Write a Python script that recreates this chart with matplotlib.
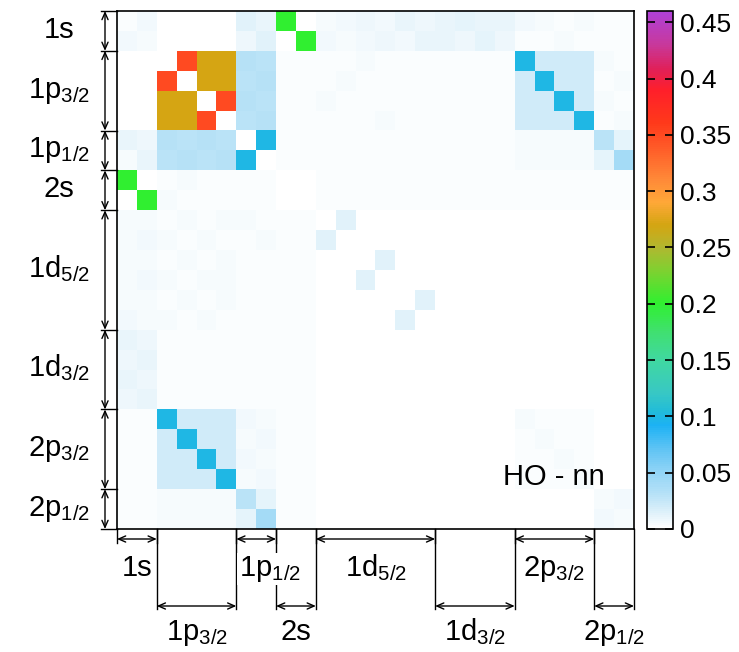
import numpy as np
import matplotlib.pyplot as plt
from matplotlib.colors import LinearSegmentedColormap

plt.rcParams['font.family'] = ['Liberation Sans', 'DejaVu Sans']
plt.rcParams['mathtext.default'] = 'regular'

# orbitals of the basis and number of m-states in each
orbitals = ['1s', '1p$_{3/2}$', '1p$_{1/2}$', '2s', '1d$_{5/2}$', '1d$_{3/2}$',
            '2p$_{3/2}$', '2p$_{1/2}$']
n_states = [2, 4, 2, 2, 6, 4, 4, 2]

cbar_ticks = [0, 0.05, 0.1, 0.15, 0.2, 0.25, 0.3, 0.35, 0.4, 0.45]
cbar_labels = ['0', '0.05', '0.1', '0.15', '0.2', '0.25', '0.3', '0.35', '0.4', '0.45']

# matrix, in units of 1e-3 (row i, column j)
rows = [
    [3, 6, 0, 0, 0, 0, 14, 10, 200, 0, 5, 6, 8, 6, 10, 8, 10, 12, 10, 10, 6, 4, 3, 4, 3, 3],
    [6, 4, 0, 0, 0, 0, 8, 14, 0, 200, 6, 5, 6, 8, 6, 10, 10, 8, 12, 8, 3, 3, 4, 2, 2, 3],
    [0, 0, 0, 350, 270, 270, 32, 30, 2, 3, 3, 2, 4, 2, 3, 3, 2, 3, 2, 2, 100, 20, 20, 20, 4, 3],
    [0, 0, 350, 0, 270, 270, 30, 32, 3, 2, 2, 4, 2, 3, 2, 2, 3, 2, 2, 3, 20, 100, 20, 20, 3, 4],
    [0, 0, 270, 270, 0, 350, 32, 30, 2, 3, 4, 2, 3, 2, 3, 2, 2, 3, 2, 2, 20, 20, 100, 20, 4, 3],
    [0, 0, 270, 270, 350, 0, 30, 32, 3, 2, 2, 3, 2, 4, 2, 3, 3, 2, 3, 2, 20, 20, 20, 100, 3, 4],
    [10, 8, 32, 30, 32, 30, 0, 100, 2, 2, 3, 3, 3, 3, 3, 3, 3, 3, 3, 3, 4, 4, 4, 4, 30, 12],
    [5, 10, 30, 32, 30, 32, 100, 0, 2, 2, 3, 3, 3, 3, 3, 3, 3, 3, 3, 3, 4, 4, 4, 4, 12, 40],
    [200, 0, 3, 4, 3, 3, 2, 2, 0, 0, 2, 2, 2, 2, 2, 2, 2, 2, 2, 2, 3, 3, 3, 3, 2, 2],
    [0, 200, 4, 3, 3, 3, 2, 2, 0, 0, 2, 2, 2, 2, 2, 2, 2, 2, 2, 2, 3, 3, 3, 3, 2, 2],
    [5, 4, 3, 5, 3, 5, 4, 3, 3, 2, 0, 14, 0, 0, 0, 0, 0, 0, 0, 0, 0, 0, 0, 0, 0, 0],
    [4, 6, 5, 3, 5, 3, 3, 4, 2, 3, 14, 0, 0, 0, 0, 0, 0, 0, 0, 0, 0, 0, 0, 0, 0, 0],
    [5, 4, 3, 5, 3, 4, 3, 2, 2, 2, 0, 0, 0, 14, 0, 0, 0, 0, 0, 0, 0, 0, 0, 0, 0, 0],
    [4, 6, 5, 3, 4, 5, 2, 3, 2, 2, 0, 0, 14, 0, 0, 0, 0, 0, 0, 0, 0, 0, 0, 0, 0, 0],
    [5, 5, 3, 4, 3, 5, 3, 2, 2, 2, 0, 0, 0, 0, 0, 14, 0, 0, 0, 0, 0, 0, 0, 0, 0, 0],
    [6, 4, 4, 3, 5, 3, 2, 3, 2, 2, 0, 0, 0, 0, 14, 0, 0, 0, 0, 0, 0, 0, 0, 0, 0, 0],
    [9, 8, 3, 2, 3, 2, 3, 2, 2, 2, 0, 0, 0, 0, 0, 0, 0, 0, 0, 0, 0, 0, 0, 0, 0, 0],
    [8, 10, 2, 3, 2, 3, 2, 3, 2, 2, 0, 0, 0, 0, 0, 0, 0, 0, 0, 0, 0, 0, 0, 0, 0, 0],
    [10, 8, 3, 2, 3, 2, 3, 2, 2, 2, 0, 0, 0, 0, 0, 0, 0, 0, 0, 0, 0, 0, 0, 0, 0, 0],
    [8, 9, 2, 3, 2, 3, 2, 3, 2, 2, 0, 0, 0, 0, 0, 0, 0, 0, 0, 0, 0, 0, 0, 0, 0, 0],
    [3, 2, 100, 20, 20, 20, 6, 5, 3, 3, 0, 0, 0, 0, 0, 0, 0, 0, 0, 0, 4, 3, 3, 3, 0, 0],
    [2, 3, 20, 100, 20, 20, 5, 6, 3, 3, 0, 0, 0, 0, 0, 0, 0, 0, 0, 0, 3, 4, 3, 3, 0, 0],
    [3, 2, 20, 20, 100, 20, 6, 5, 3, 3, 0, 0, 0, 0, 0, 0, 0, 0, 0, 0, 3, 3, 4, 3, 0, 0],
    [2, 3, 20, 20, 20, 100, 5, 6, 3, 3, 0, 0, 0, 0, 0, 0, 0, 0, 0, 0, 3, 3, 3, 4, 0, 0],
    [3, 3, 5, 4, 5, 4, 30, 12, 2, 2, 0, 0, 0, 0, 0, 0, 0, 0, 0, 0, 0, 0, 0, 0, 4, 6],
    [3, 3, 4, 5, 4, 5, 12, 40, 2, 2, 0, 0, 0, 0, 0, 0, 0, 0, 0, 0, 0, 0, 0, 0, 6, 4],
]
M = np.array(rows) / 1000.0

vmax = 0.46
anchors = [
    (0.0, '#ffffff'), (0.015, '#dcf0fa'), (0.03, '#b8e2f7'), (0.05, '#90d4f6'),
    (0.07, '#60c4f4'), (0.092, '#1cb2f4'), (0.105, '#22bcd8'), (0.12, '#38c8c4'),
    (0.15, '#40d8a0'), (0.175, '#40e070'), (0.2, '#30f030'), (0.23, '#80d030'),
    (0.25, '#b0b830'), (0.27, '#d4a512'), (0.29, '#ffa838'), (0.31, '#ff8a38'),
    (0.34, '#ff5a28'), (0.36, '#ff3a1a'), (0.39, '#ff1f2a'), (0.41, '#e0205a'),
    (0.43, '#c8389a'), (0.46, '#b040d8'),
]
cmap = LinearSegmentedColormap.from_list('hm', [(v / vmax, c) for v, c in anchors])

fig = plt.figure(figsize=(7.39, 6.52), dpi=100)
ax = fig.add_axes([117 / 739, 1 - 529 / 652, 517 / 739, 518 / 652])
n = M.shape[0]
im = ax.imshow(M, cmap=cmap, vmin=0, vmax=vmax, interpolation='nearest',
               aspect='auto', extent=(0, n, n, 0))
ax.set_xticks([])
ax.set_yticks([])
for s in ax.spines.values():
    s.set_linewidth(1.2)

ax.text(0.944, 0.10, 'HO - nn', transform=ax.transAxes, ha='right', va='center',
        fontsize=21)

# colorbar
cax = fig.add_axes([647 / 739, 1 - 529 / 652, 26 / 739, 518 / 652])
cb = fig.colorbar(im, cax=cax, ticks=cbar_ticks)
cb.ax.set_yticklabels(cbar_labels, fontsize=19)
cax.tick_params(direction='in', left=True, right=True, length=6, width=1.2, pad=5)
cb.outline.set_linewidth(1.2)

# brackets marking the orbital blocks
edges = np.concatenate([[0], np.cumsum(n_states)])
xt = ax.get_xaxis_transform()
yt = ax.get_yaxis_transform()
lk = dict(color='k', lw=1.0, clip_on=False)
arrow = dict(arrowstyle='<->,head_length=0.5,head_width=0.22', lw=1.0, color='k',
             shrinkA=0, shrinkB=0, mutation_scale=10)
fs = 21

# left side
xa = -12 / 517
for e in edges:
    ax.plot([-0.031, 0], [e, e], transform=yt, **lk)
for k, name in enumerate(orbitals):
    a, b = edges[k], edges[k + 1]
    ax.annotate('', xy=(xa, a), xytext=(xa, b), xycoords=yt, textcoords=yt,
                arrowprops=arrow)
    ax.text(-0.113, (a + b) / 2 + 0.35, name, transform=yt, ha='center',
            va='baseline', fontsize=fs)

# bottom, two staggered rows
y1, y2 = -10 / 518, -77 / 518
base1, base2 = -47 / 518, -111 / 518
for k, name in enumerate(orbitals):
    a, b = edges[k], edges[k + 1]
    if k % 2 == 0:
        for e in (a, b):
            ax.plot([e, e], [0, y1 - 0.008], transform=xt, **lk)
        ax.annotate('', xy=(a, y1), xytext=(b, y1), xycoords=xt, textcoords=xt,
                    arrowprops=arrow)
        if n_states[k] == 2 and '$' in name:
            ax.text(a + 0.12, base1, name, transform=xt, ha='left', va='baseline',
                    fontsize=fs, zorder=5,
                    bbox=dict(facecolor='white', edgecolor='none', pad=1))
        else:
            ax.text((a + b) / 2, base1, name, transform=xt, ha='center',
                    va='baseline', fontsize=fs, zorder=5,
                    bbox=dict(facecolor='white', edgecolor='none', pad=1))
    else:
        for e in (a, b):
            ax.plot([e, e], [0, y2 - 0.006], transform=xt, **lk)
        ax.annotate('', xy=(a, y2), xytext=(b, y2), xycoords=xt, textcoords=xt,
                    arrowprops=arrow)
        ax.text((a + b) / 2, base2, name, transform=xt, ha='center', va='baseline',
                fontsize=fs)

fig.savefig('out.png', dpi=100)
